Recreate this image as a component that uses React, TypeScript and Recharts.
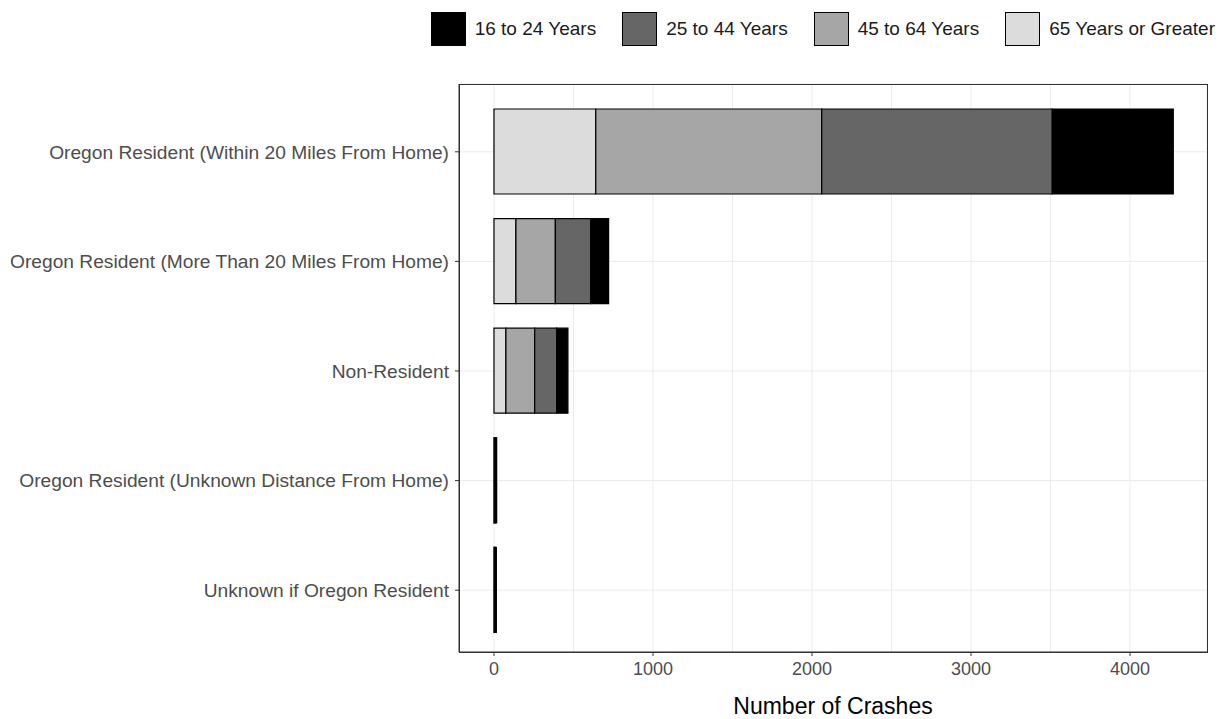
import React from "react";
import { BarChart, Bar, XAxis, YAxis, CartesianGrid } from "recharts";

const categories = [
  "Oregon Resident (Within 20 Miles From Home)",
  "Oregon Resident (More Than 20 Miles From Home)",
  "Non-Resident",
  "Oregon Resident (Unknown Distance From Home)",
  "Unknown if Oregon Resident",
];
const age16to24 = [761, 113, 71, 6, 5];
const age25to44 = [1450, 222, 138, 5, 4];
const age45to64 = [1421, 248, 181, 4, 4];
const age65plus = [640, 138, 75, 2, 2];

const xTicks = [0, 1000, 2000, 3000, 4000];
const gridTicks = [0, 500, 1000, 1500, 2000, 2500, 3000, 3500, 4000];
const xDomain = [-220, 4484];

// stacking order: first is closest to zero
const series = [
  { key: "a65", name: "65 Years or Greater", values: age65plus, color: "#dcdcdc" },
  { key: "a45", name: "45 to 64 Years", values: age45to64, color: "#a6a6a6" },
  { key: "a25", name: "25 to 44 Years", values: age25to44, color: "#666666" },
  { key: "a16", name: "16 to 24 Years", values: age16to24, color: "#000000" },
];
const legendOrder = ["a16", "a25", "a45", "a65"];

const data = categories.map((c, i) => {
  const row: Record<string, any> = { category: c };
  series.forEach((s) => (row[s.key] = s.values[i]));
  return row;
});

const FONT = '"Liberation Sans", Arial, sans-serif';

export default function App() {
  return (
    <div style={{ position: "absolute", left: 0, top: 0, width: 1227, height: 719, background: "#fff", fontFamily: FONT }}>
      <div
        style={{
          position: "absolute",
          top: 12,
          right: 12,
          display: "flex",
          alignItems: "center",
          fontSize: 19,
          color: "#1a1a1a",
        }}
      >
        {legendOrder.map((k, i) => {
          const s = series.find((x) => x.key === k)!;
          return (
            <div key={k} style={{ display: "flex", alignItems: "center", marginLeft: i === 0 ? 0 : 26 }}>
              <div style={{ width: 35, height: 34, background: s.color, border: "1px solid #000", boxSizing: "border-box" }} />
              <span style={{ marginLeft: 9 }}>{s.name}</span>
            </div>
          );
        })}
      </div>
      <BarChart
        width={1227}
        height={719}
        data={data}
        layout="vertical"
        margin={{ top: 84, right: 20, bottom: 0, left: 0 }}
        barCategoryGap={0}
      >
        <CartesianGrid xAxisId="grid" stroke="#ebebeb" strokeWidth={1} />
        <XAxis
          xAxisId="grid"
          type="number"
          domain={xDomain}
          allowDataOverflow
          ticks={gridTicks}
          hide
        />
        <XAxis
          type="number"
          domain={xDomain}
          allowDataOverflow
          ticks={xTicks}
          height={67}
          tickSize={4}
          tickMargin={6}
          stroke="#333333"
          tick={{ fill: "#4d4d4d", fontSize: 18, fontFamily: FONT }}
          label={{ value: "Number of Crashes", position: "insideBottom", offset: 5, fill: "#000", fontSize: 23, fontFamily: FONT }}
        />
        <YAxis
          type="category"
          dataKey="category"
          width={459}
          tickSize={4}
          tickMargin={6}
          stroke="#333333"
          padding={{ top: 13, bottom: 7 }}
          tick={{ fill: "#4d4d4d", fontSize: 19.2, fontFamily: FONT }}
          interval={0}
        />
        {series.map((s) => (
          <Bar
            key={s.key}
            dataKey={s.key}
            name={s.name}
            stackId="a"
            fill={s.color}
            stroke="#000"
            strokeWidth={1.2}
            barSize={85}
            isAnimationActive={false}
          />
        ))}
      </BarChart>
      <div
        style={{
          position: "absolute",
          left: 459,
          top: 84,
          width: 749,
          height: 569,
          border: "1px solid #333",
          boxSizing: "border-box",
          pointerEvents: "none",
        }}
      />
    </div>
  );
}
